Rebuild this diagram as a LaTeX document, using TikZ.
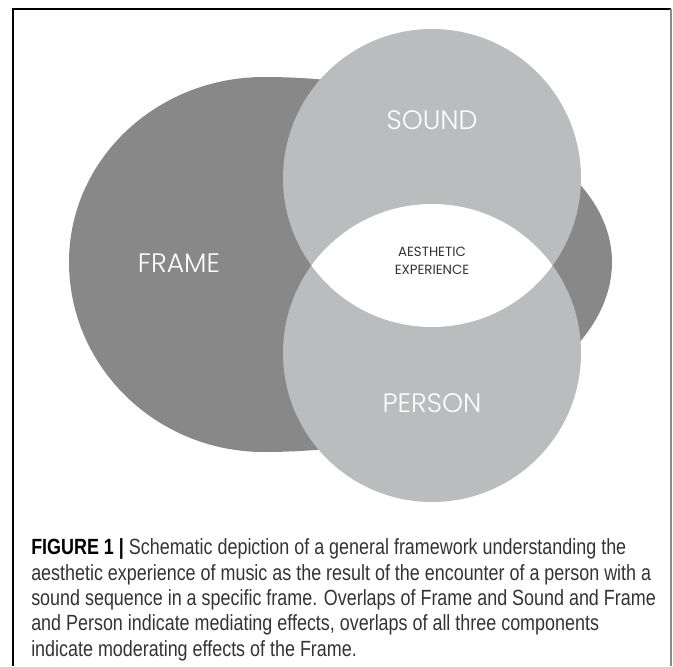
\documentclass[tikz,border=0pt]{standalone}
\usepackage{fontspec}
\setmainfont{Liberation Sans}[FakeStretch=0.815]
\newfontfamily\thinfont{Poppins}[UprightFont=* Light]
\newfontfamily\popfont{Poppins}
\usetikzlibrary{positioning}

\definecolor{framegray}{HTML}{888888}
\definecolor{circlegray}{HTML}{BBBCBE}
\definecolor{rulegray}{HTML}{8A8A8A}
\definecolor{captiongray}{HTML}{333333}

\begin{document}
\begin{tikzpicture}[x=0.75pt,y=-0.75pt,
  biglabel/.style={text=white,inner sep=0pt,font=\thinfont\fontsize{20}{24}\selectfont},
  smalllabel/.style={text=captiongray,inner sep=0pt,align=center,font=\popfont\fontsize{10}{13.5}\selectfont}]

\useasboundingbox (0,0) rectangle (673,666);

% Box round figure and caption
\draw [black,line width=0.8pt] (13,666) -- (13,9) -- (671,9);
\draw [rulegray,line width=1.5pt] (671,9) -- (671,666);

% Frame: an egg, fuller on the left side
\fill [framegray] (69,262)
  arc [start angle=180,end angle=270,x radius=195,y radius=185]
  arc [start angle=270,end angle=360,x radius=348,y radius=185]
  arc [start angle=0,end angle=90,x radius=348,y radius=190]
  arc [start angle=90,end angle=180,x radius=195,y radius=190] -- cycle;

% Sound and Person circles
\fill [circlegray] (432,178) circle [radius=149];
\fill [circlegray] (432,353) circle [radius=149];

% Their overlap stays white
\begin{scope}
  \clip (432,178) circle [radius=149];
  \fill [white] (432,353) circle [radius=149];
\end{scope}

% Labels
\node [biglabel] (frame) at (179,263) {FRAME};
\node [biglabel] (sound) at (432,120) {SOUND};
\node [biglabel] (person) at (432,403) {PERSON};
\node [smalllabel] (aesthetic) at (432,261) {AESTHETIC\\EXPERIENCE};

% Caption (base anchor sits on the last line)
\node [anchor=base west,inner sep=0pt,align=left,text=captiongray,
  font=\fontsize{16.5}{19}\selectfont] (caption) at (31,656)
  {{\color{black}\bfseries FIGURE 1 |} Schematic depiction of a general framework understanding the\\
  aesthetic experience of music as the result of the encounter of a person with a\\
  sound sequence in a specific frame. Overlaps of Frame and Sound and Frame\\
  and Person indicate mediating effects, overlaps of all three components\\
  indicate moderating effects of the Frame.};

\end{tikzpicture}
\end{document}
